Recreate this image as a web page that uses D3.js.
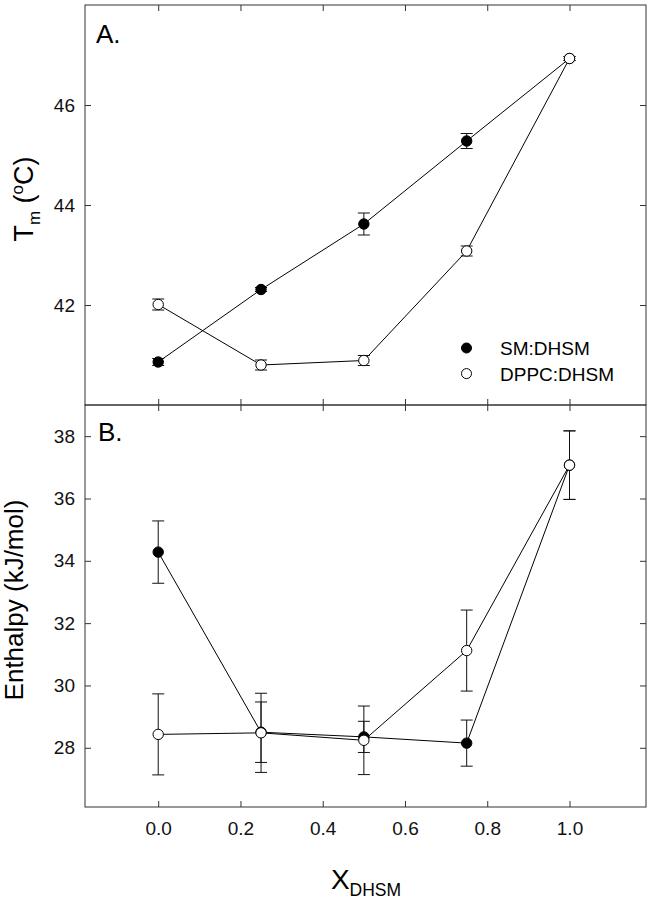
<!DOCTYPE html>
<html>
<head>
<meta charset="utf-8">
<script src="https://cdn.jsdelivr.net/npm/d3@7"></script>
<style>
  html, body { margin: 0; padding: 0; background: #fff; }
  svg { display: block; font-family: "Liberation Sans", Arial, Helvetica, sans-serif; }
</style>
</head>
<body>
<svg id="chart" width="651" height="900"></svg>
<script>
// ---- data ----
const xValues = [0, 0.25, 0.5, 0.75, 1.0];
const seriesNames = ["SM:DHSM", "DPPC:DHSM"];

const tmSM = [40.86, 42.31, 43.62, 45.28, 46.93];
const tmSMErr = [0.07, 0.04, 0.22, 0.15, 0.04];
const tmDPPC = [42.01, 40.80, 40.89, 43.08, 46.93];
const tmDPPCErr = [0.11, 0.10, 0.10, 0.10, 0.04];

const enthSM = [34.28, 28.50, 28.35, 28.15, 37.07];
const enthSMErr = [1.0, 0.97, 0.5, 0.74, 1.1];
const enthDPPC = [28.43, 28.48, 28.24, 31.12, 37.07];
const enthDPPCErr = [1.3, 1.27, 1.1, 1.3, 1.1];

const xTicks = [0, 0.2, 0.4, 0.6, 0.8, 1.0];
const tmTicks = [42, 44, 46];
const enthTicks = [28, 30, 32, 34, 36, 38];

// ---- layout ----
const svg = d3.select("#chart");
const L = 85, R = 646, T = 5, MID = 405, B = 807;
const font = '"Liberation Sans", Arial, Helvetica, sans-serif';
const frameColor = "#333";

const x = d3.scaleLinear().domain([-0.178, 1.186]).range([L, R]);
const yTop = d3.scaleLinear().domain([40, 48]).range([MID, T]);
const yBot = d3.scaleLinear().domain([26.1, 39]).range([B, MID]);

const tickLen = 6;

function panelAxes(y, top, bottom, yTicks) {
  const g = svg.append("g");
  g.append("g").attr("transform", `translate(${L},0)`)
    .call(d3.axisLeft(y).tickValues(yTicks).tickSizeInner(-tickLen).tickSizeOuter(0).tickPadding(10).tickFormat(d3.format("d")));
  g.append("g").attr("transform", `translate(${R},0)`)
    .call(d3.axisRight(y).tickValues(yTicks).tickSizeInner(-tickLen).tickSizeOuter(0).tickFormat(""));
  g.append("g").attr("transform", `translate(0,${top})`)
    .call(d3.axisTop(x).tickValues(xTicks).tickSizeInner(-tickLen).tickSizeOuter(0).tickFormat(""));
  g.append("g").attr("transform", `translate(0,${bottom})`)
    .call(d3.axisBottom(x).tickValues(xTicks).tickSizeInner(-tickLen).tickSizeOuter(0).tickFormat(""));
  g.selectAll(".domain").remove();
  g.selectAll(".tick line").attr("stroke", frameColor).attr("stroke-width", 1);
  g.selectAll(".tick text").attr("font-size", 19).attr("font-family", font).attr("fill", "#111");
  g.append("rect").attr("x", L).attr("y", top).attr("width", R - L).attr("height", bottom - top)
    .attr("fill", "none").attr("stroke", frameColor).attr("stroke-width", 1);
  return g;
}

panelAxes(yTop, T, MID, tmTicks);
panelAxes(yBot, MID, B, enthTicks);

// bottom x tick labels
const xl = svg.append("g").attr("transform", `translate(0,${B})`)
  .call(d3.axisBottom(x).tickValues(xTicks).tickSize(0).tickPadding(28).tickFormat(d3.format(".1f")));
xl.select(".domain").remove();
xl.selectAll("text").attr("font-size", 19).attr("font-family", font).attr("fill", "#111")
  .attr("y", 28).attr("dy", 0);

// ---- series drawing ----
function drawSeries(y, vals, errs) {
  const pts = xValues.map((xv, i) => ({ x: xv, y: vals[i], e: errs[i] }));
  const g = svg.append("g");
  g.append("path").datum(pts)
    .attr("d", d3.line().x(d => x(d.x)).y(d => y(d.y)))
    .attr("fill", "none").attr("stroke", "#000").attr("stroke-width", 1);
  const eb = g.selectAll(".eb").data(pts).enter().append("g");
  eb.append("line").attr("x1", d => x(d.x)).attr("x2", d => x(d.x))
    .attr("y1", d => y(d.y - d.e)).attr("y2", d => y(d.y + d.e))
    .attr("stroke", "#111").attr("stroke-width", 1);
  [-1, 1].forEach(s => {
    eb.append("line").attr("x1", d => x(d.x) - 6).attr("x2", d => x(d.x) + 6)
      .attr("y1", d => y(d.y + s * d.e)).attr("y2", d => y(d.y + s * d.e))
      .attr("stroke", "#111").attr("stroke-width", 1);
  });
}
function drawMarkers(y, vals, filled) {
  svg.append("g").selectAll("circle").data(xValues.map((xv, i) => ({ x: xv, y: vals[i] })))
    .enter().append("circle")
    .attr("cx", d => x(d.x)).attr("cy", d => y(d.y)).attr("r", 5.2)
    .attr("fill", filled ? "#000" : "#fff").attr("stroke", "#000").attr("stroke-width", 1);
}

// Panel A
drawSeries(yTop, tmSM, tmSMErr);
drawSeries(yTop, tmDPPC, tmDPPCErr);
drawMarkers(yTop, tmSM, true);
drawMarkers(yTop, tmDPPC, false);
// Panel B
drawSeries(yBot, enthSM, enthSMErr);
drawSeries(yBot, enthDPPC, enthDPPCErr);
drawMarkers(yBot, enthSM, true);
drawMarkers(yBot, enthDPPC, false);

// panel labels
svg.append("text").attr("x", 96).attr("y", 43).attr("font-size", 26).attr("fill", "#000").text("A.");
svg.append("text").attr("x", 98).attr("y", 441).attr("font-size", 26).attr("fill", "#000").text("B.");

// legend
const legend = svg.append("g");
seriesNames.forEach((name, i) => {
  const ly = 348 + i * 25.6;
  legend.append("circle").attr("cx", 466.5).attr("cy", ly).attr("r", 5)
    .attr("fill", i === 0 ? "#000" : "#fff").attr("stroke", "#000").attr("stroke-width", 1);
  legend.append("text").attr("x", 500).attr("y", ly + 7).attr("font-size", 19).attr("fill", "#000").text(name);
});

// y titles
const t1 = svg.append("text").attr("transform", "translate(33,199) rotate(-90)")
  .attr("text-anchor", "middle").attr("font-size", 27).attr("fill", "#000");
t1.append("tspan").text("T");
t1.append("tspan").attr("font-size", 17).attr("dy", 7).text("m");
t1.append("tspan").attr("dy", -7).text(" (");
t1.append("tspan").attr("font-size", 17).attr("dy", -10).text("o");
t1.append("tspan").attr("dy", 10).text("C)");

svg.append("text").attr("transform", "translate(23,600) rotate(-90)")
  .attr("text-anchor", "middle").attr("font-size", 26).attr("fill", "#000")
  .text("Enthalpy (kJ/mol)");

// x title
const xt = svg.append("text").attr("x", 366).attr("y", 889).attr("text-anchor", "middle")
  .attr("font-size", 28).attr("fill", "#000");
xt.append("tspan").text("X");
xt.append("tspan").attr("font-size", 17.5).attr("dy", 7).text("DHSM");
</script>
</body>
</html>
